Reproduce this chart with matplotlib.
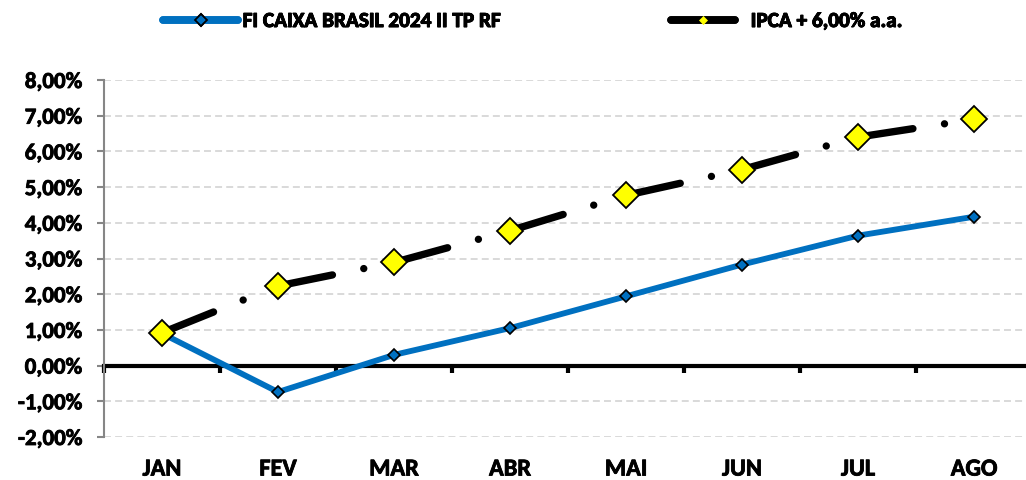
import matplotlib
matplotlib.use("Agg")
import matplotlib.pyplot as plt
import matplotlib.patheffects as path_effects
from matplotlib.lines import Line2D
from matplotlib.ticker import FuncFormatter, MultipleLocator, FixedLocator

plt.rcParams['font.family'] = ['Carlito', 'DejaVu Sans']
plt.rcParams['font.weight'] = 'bold'
plt.rcParams['lines.scale_dashes'] = False

# === Data ===
months = ['JAN', 'FEV', 'MAR', 'ABR', 'MAI', 'JUN', 'JUL', 'AGO']
fundo = [0.90, -0.74, 0.30, 1.05, 1.94, 2.83, 3.64, 4.17]
ipca6 = [0.92, 2.23, 2.89, 3.78, 4.77, 5.49, 6.40, 6.90]
label_fundo = 'FI CAIXA BRASIL 2024 II TP RF'
label_ipca = 'IPCA + 6,00% a.a.'

BLUE = '#0070C0'
YELLOW = '#FFFF00'
x = list(range(len(months)))
heavy = [path_effects.withStroke(linewidth=0.6, foreground='black')]

fig = plt.figure(figsize=(10.26, 4.8), dpi=100)
ax = fig.add_axes([104 / 1026, 43 / 480, 928 / 1026, 357 / 480])

# grid
ax.set_ylim(-2, 8)
ax.set_xlim(-0.5, len(months) - 0.5)
ax.yaxis.set_major_locator(MultipleLocator(1))
ax.yaxis.grid(True, color='#D9D9D9', lw=1.4, linestyle=(0, (5, 3)))
ax.set_axisbelow(True)

# blue line
ax.plot(x, fundo, color=BLUE, lw=4.2, solid_capstyle='round', zorder=3)
ax.plot(x, fundo, ls='none', marker='D', ms=6.5, mfc=BLUE, mec='black', mew=1.2, zorder=4)

# black long-dash-dot, pattern restarts on every segment
for i in range(len(months) - 1):
    ax.plot(x[i:i + 2], ipca6[i:i + 2], color='black', lw=5.3,
            linestyle=(0, (40, 23, 0.01, 40)), dash_capstyle='round', zorder=5)
ax.plot(x, ipca6, ls='none', marker='D', ms=13, mfc=YELLOW, mec='black', mew=1.3, zorder=6)

# spines
for s in ['top', 'right']:
    ax.spines[s].set_visible(False)
ax.spines['left'].set_color('#868686')
ax.spines['left'].set_linewidth(1.5)
ax.spines['bottom'].set_position(('data', 0))
ax.spines['bottom'].set_color('black')
ax.spines['bottom'].set_linewidth(3)
ax.spines['bottom'].set_zorder(2)

ax.tick_params(axis='y', colors='#868686', length=5, width=1.5, labelcolor='black',
               labelsize=16.5, pad=10.5)
ax.yaxis.set_major_formatter(FuncFormatter(lambda v, p: f'{v:.2f}%'.replace('.', ',')))

# boundary ticks on zero line
ax.xaxis.set_major_locator(FixedLocator([i - 0.5 for i in range(len(months) + 1)]))
ax.tick_params(axis='x', which='major', length=5, width=3, colors='black', labelbottom=False)

# month labels at bottom
sec = ax.secondary_xaxis('bottom')
sec.spines['bottom'].set_visible(False)
sec.set_xticks(x)
sec.set_xticklabels(months)
sec.tick_params(length=0, labelsize=17.5, pad=15.5)

for lab in ax.get_yticklabels() + sec.get_xticklabels():
    lab.set_fontweight('bold')
    lab.set_path_effects(heavy)

# legend, two entries placed separately
h1 = Line2D([], [], color=BLUE, lw=5.5, solid_capstyle='round', marker='D', ms=6.5,
            mfc=BLUE, mec='black', mew=1.3)
h2 = Line2D([], [], color='black', lw=5.5, solid_capstyle='round', marker='D', ms=4.5,
            mfc=YELLOW, mec=YELLOW, mew=0.5)
for h, lab, x0, hl, tp in [(h1, label_fundo, 163, 3.55, 0.2), (h2, label_ipca, 671, 3.0, 0.75)]:
    leg = fig.legend([h], [lab], loc='center left', bbox_to_anchor=(x0 / 1026, 1 - 21 / 480),
                     frameon=False, borderpad=0, borderaxespad=0, handlelength=hl,
                     handletextpad=tp, prop={'weight': 'bold', 'size': 15.3})
    for t in leg.get_texts():
        t.set_path_effects(heavy)
    fig.add_artist(leg)

fig.savefig('out.png', dpi=100)
